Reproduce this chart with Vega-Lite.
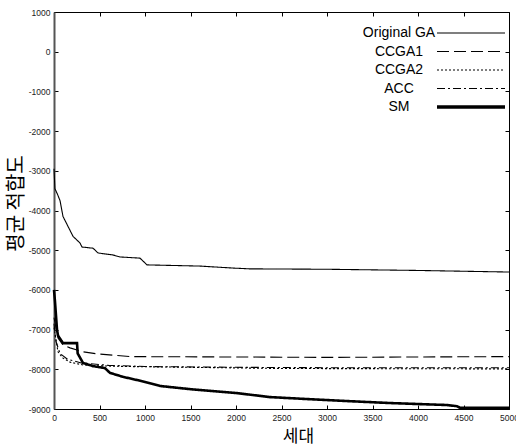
{
  "$schema": "https://vega.github.io/schema/vega-lite/v6.json",
  "width": 455,
  "height": 397,
  "autosize": {"type": "none"},
  "padding": {"left": 54, "top": 12, "right": 7, "bottom": 35},
  "background": "white",
  "config": {
    "view": {"stroke": "black", "strokeWidth": 1},
    "axis": {"grid": false, "labelFont": "Liberation Sans", "labelFontSize": 8.5, "labelColor": "#222", "tickColor": "black", "domainColor": "black"}
  },
  "data": {
    "values": [
      {"series": "Original GA", "gen": 0, "value": -2950},
      {"series": "Original GA", "gen": 10, "value": -3450},
      {"series": "Original GA", "gen": 40, "value": -3600},
      {"series": "Original GA", "gen": 66, "value": -3750},
      {"series": "Original GA", "gen": 99, "value": -4150},
      {"series": "Original GA", "gen": 154, "value": -4400},
      {"series": "Original GA", "gen": 209, "value": -4650},
      {"series": "Original GA", "gen": 286, "value": -4820},
      {"series": "Original GA", "gen": 308, "value": -4920},
      {"series": "Original GA", "gen": 429, "value": -4950},
      {"series": "Original GA", "gen": 484, "value": -5070},
      {"series": "Original GA", "gen": 648, "value": -5120},
      {"series": "Original GA", "gen": 725, "value": -5170},
      {"series": "Original GA", "gen": 945, "value": -5200},
      {"series": "Original GA", "gen": 1022, "value": -5370},
      {"series": "Original GA", "gen": 1604, "value": -5400},
      {"series": "Original GA", "gen": 1967, "value": -5450},
      {"series": "Original GA", "gen": 2154, "value": -5470},
      {"series": "Original GA", "gen": 3000, "value": -5480},
      {"series": "Original GA", "gen": 4000, "value": -5510},
      {"series": "Original GA", "gen": 5000, "value": -5550},

      {"series": "CCGA1", "gen": 0, "value": -6700},
      {"series": "CCGA1", "gen": 22, "value": -6960},
      {"series": "CCGA1", "gen": 44, "value": -7210},
      {"series": "CCGA1", "gen": 99, "value": -7390},
      {"series": "CCGA1", "gen": 176, "value": -7460},
      {"series": "CCGA1", "gen": 319, "value": -7560},
      {"series": "CCGA1", "gen": 473, "value": -7610},
      {"series": "CCGA1", "gen": 835, "value": -7680},
      {"series": "CCGA1", "gen": 2000, "value": -7690},
      {"series": "CCGA1", "gen": 3000, "value": -7700},
      {"series": "CCGA1", "gen": 5000, "value": -7680},

      {"series": "CCGA2", "gen": 0, "value": -6950},
      {"series": "CCGA2", "gen": 44, "value": -7560},
      {"series": "CCGA2", "gen": 99, "value": -7720},
      {"series": "CCGA2", "gen": 176, "value": -7820},
      {"series": "CCGA2", "gen": 319, "value": -7890},
      {"series": "CCGA2", "gen": 473, "value": -7910},
      {"series": "CCGA2", "gen": 800, "value": -7930},
      {"series": "CCGA2", "gen": 1500, "value": -7950},
      {"series": "CCGA2", "gen": 2500, "value": -7980},
      {"series": "CCGA2", "gen": 5000, "value": -7990},

      {"series": "ACC", "gen": 0, "value": -6850},
      {"series": "ACC", "gen": 22, "value": -7300},
      {"series": "ACC", "gen": 66, "value": -7600},
      {"series": "ACC", "gen": 150, "value": -7750},
      {"series": "ACC", "gen": 300, "value": -7840},
      {"series": "ACC", "gen": 600, "value": -7900},
      {"series": "ACC", "gen": 1000, "value": -7930},
      {"series": "ACC", "gen": 2000, "value": -7950},
      {"series": "ACC", "gen": 3000, "value": -7960},
      {"series": "ACC", "gen": 5000, "value": -7960},

      {"series": "SM", "gen": 0, "value": -6000},
      {"series": "SM", "gen": 11, "value": -6300},
      {"series": "SM", "gen": 33, "value": -7000},
      {"series": "SM", "gen": 44, "value": -7150},
      {"series": "SM", "gen": 99, "value": -7340},
      {"series": "SM", "gen": 253, "value": -7340},
      {"series": "SM", "gen": 260, "value": -7600},
      {"series": "SM", "gen": 319, "value": -7840},
      {"series": "SM", "gen": 429, "value": -7920},
      {"series": "SM", "gen": 560, "value": -7970},
      {"series": "SM", "gen": 615, "value": -8090},
      {"series": "SM", "gen": 758, "value": -8190},
      {"series": "SM", "gen": 912, "value": -8270},
      {"series": "SM", "gen": 1165, "value": -8420},
      {"series": "SM", "gen": 1495, "value": -8500},
      {"series": "SM", "gen": 2011, "value": -8600},
      {"series": "SM", "gen": 2374, "value": -8700},
      {"series": "SM", "gen": 2703, "value": -8740},
      {"series": "SM", "gen": 3220, "value": -8800},
      {"series": "SM", "gen": 3692, "value": -8850},
      {"series": "SM", "gen": 4319, "value": -8900},
      {"series": "SM", "gen": 4429, "value": -8930},
      {"series": "SM", "gen": 4462, "value": -8970},
      {"series": "SM", "gen": 5000, "value": -8970}
    ]
  },
  "resolve": {"axis": {"x": "independent", "y": "independent"}},
  "layer": [
    {
      "mark": {"type": "line", "color": "black", "interpolate": "linear"},
      "encoding": {
        "x": {
          "field": "gen", "type": "quantitative",
          "scale": {"domain": [0, 5000], "nice": false, "zero": false},
          "axis": {
            "values": [0, 500, 1000, 1500, 2000, 2500, 3000, 3500, 4000, 4500, 5000],
            "labelExpr": "'' + datum.value",
            "tickSize": -4, "labelPadding": 8, "labelFlush": false,
            "title": "세대", "titleFont": "Noto Sans CJK KR", "titleFontSize": 17, "titleFontWeight": "normal",
            "titleX": 244, "titleY": 19, "titleBaseline": "top"
          }
        },
        "y": {
          "field": "value", "type": "quantitative",
          "scale": {"domain": [-9000, 1000], "nice": false, "zero": false},
          "axis": {
            "values": [-9000, -8000, -7000, -6000, -5000, -4000, -3000, -2000, -1000, 0, 1000],
            "labelExpr": "'' + datum.value",
            "tickSize": -4, "labelPadding": 8, "labelFlush": false,
            "domainColor": "#555", "domainWidth": 2,
            "title": "평균 적합도", "titleFont": "Noto Sans CJK KR", "titleFontSize": 20, "titleFontWeight": "normal",
            "titleX": -28, "titleY": 191
          }
        },
        "detail": {"field": "series"},
        "strokeDash": {
          "field": "series", "type": "nominal",
          "scale": {
            "domain": ["Original GA", "CCGA1", "CCGA2", "ACC", "SM"],
            "range": [[1, 0], [12, 5], [2, 2], [8, 3, 2, 3], [1, 0]]
          },
          "legend": {
            "orient": "none", "legendX": 410, "legendY": 14, "padding": 0,
            "title": null, "symbolType": "stroke", "symbolSize": 4624,
            "symbolStrokeColor": "black", "symbolStrokeWidth": 1.2,
            "labelFont": "Liberation Sans", "labelFontSize": 14, "labelColor": "black",
            "labelAlign": "center", "labelOffset": -79, "rowPadding": 4.5,
            "encode": {"symbols": {"update": {"strokeWidth": {"signal": "datum.value === 'SM' ? 3.5 : 1.2"}}}}
          }
        },
        "strokeWidth": {"condition": {"test": "datum.series === 'SM'", "value": 2.6}, "value": 1.1}
      }
    },
    {
      "mark": {"type": "line", "opacity": 0},
      "encoding": {
        "x": {
          "field": "gen", "type": "quantitative",
          "axis": {"orient": "top", "values": [0, 500, 1000, 1500, 2000, 2500, 3000, 3500, 4000, 4500, 5000], "labels": false, "domain": false, "tickSize": -4, "title": null}
        },
        "y": {
          "field": "value", "type": "quantitative",
          "axis": {"orient": "right", "values": [-9000, -8000, -7000, -6000, -5000, -4000, -3000, -2000, -1000, 0, 1000], "labels": false, "domain": false, "tickSize": -4, "title": null}
        },
        "detail": {"field": "series"}
      }
    }
  ]
}
